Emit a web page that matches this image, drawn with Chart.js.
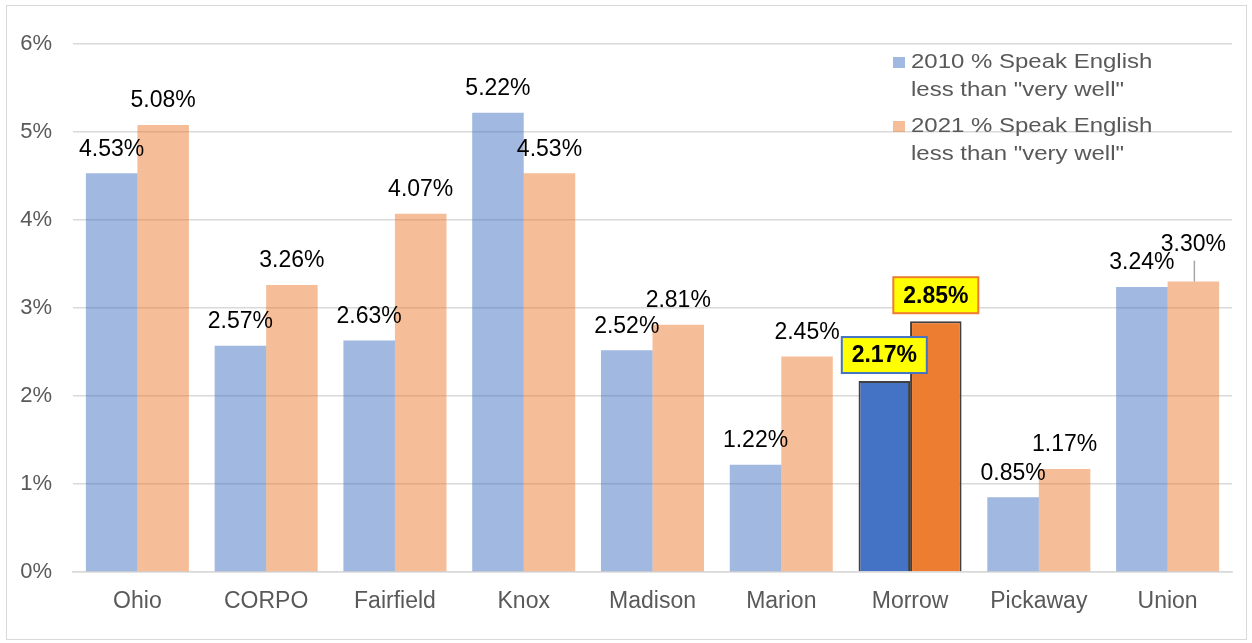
<!DOCTYPE html>
<html>
<head>
<meta charset="utf-8">
<script src="https://cdn.jsdelivr.net/npm/chart.js@4"></script>
<style>
  html, body { margin: 0; padding: 0; background: #fff; }
  #frame { position: absolute; left: 6px; top: 5px; width: 1239px; height: 633px; border: 1px solid #d9d9d9; }
  #wrap { position: absolute; left: 0; top: 0; width: 1252px; height: 643px; }
</style>
</head>
<body>
<div id="frame"></div>
<div id="wrap"><canvas id="chart"></canvas></div>
<script>
const categories = ['Ohio', 'CORPO', 'Fairfield', 'Knox', 'Madison', 'Marion', 'Morrow', 'Pickaway', 'Union'];
const values2010 = [4.53, 2.57, 2.63, 5.22, 2.52, 1.22, 2.17, 0.85, 3.24];
const values2021 = [5.08, 3.26, 4.07, 4.53, 2.81, 2.45, 2.85, 1.17, 3.30];
const seriesNames = [['2010 % Speak English', 'less than "very well"'], ['2021 % Speak English', 'less than "very well"']];
const highlight = 'Morrow';

const FONT = '"Liberation Sans", Arial, sans-serif';
const blue = '#4472C4', orange = '#ED7D31';
const blueSoft = 'rgba(68,114,196,0.5)', orangeSoft = 'rgba(237,125,49,0.5)';

function colorsFor(full, soft) {
    return categories.map(c => c === highlight ? full : soft);
}

const labelPlugin = {
    id: 'barLabels',
    afterDatasetsDraw(chart) {
        const ctx = chart.ctx;
        ctx.save();
        ctx.textAlign = 'center';
        ctx.textBaseline = 'middle';
        chart.data.datasets.forEach((ds, di) => {
            const meta = chart.getDatasetMeta(di);
            meta.data.forEach((bar, i) => {
                const text = ds.data[i].toFixed(2) + '%';
                let x = bar.x, y = bar.y - 24;
                if (categories[i] === highlight) {
                    ctx.font = 'bold 23px ' + FONT;
                    const w = 85, h = 36;
                    y = bar.y - 26;
                    ctx.fillStyle = '#ffff00';
                    ctx.fillRect(x - w / 2, y - h / 2, w, h);
                    ctx.strokeStyle = di === 0 ? blue : orange;
                    ctx.lineWidth = 2;
                    ctx.strokeRect(x - w / 2, y - h / 2, w, h);
                    ctx.fillStyle = '#000';
                    ctx.fillText(text, x, y + 1);
                    return;
                }
                if (categories[i] === 'Union' && di === 1) {
                    // label pushed up with a leader line
                    ctx.strokeStyle = '#a6a6a6';
                    ctx.lineWidth = 1.5;
                    ctx.beginPath();
                    ctx.moveTo(bar.x + 1, bar.y);
                    ctx.lineTo(bar.x + 1, bar.y - 21);
                    ctx.stroke();
                    y = bar.y - 37;
                }
                ctx.font = '23px ' + FONT;
                ctx.fillStyle = '#000';
                ctx.fillText(text, x, y);
            });
        });
        ctx.restore();
    }
};

const legendPlugin = {
    id: 'sideLegend',
    afterDraw(chart) {
        const ctx = chart.ctx;
        ctx.save();
        ctx.textBaseline = 'middle';
        ctx.textAlign = 'left';
        chart.data.datasets.forEach((ds, di) => {
            const top = 62 + di * 64;
            ctx.fillStyle = di === 0 ? blueSoft : orangeSoft;
            ctx.fillRect(893, top - 5, 12, 11);
            ctx.fillStyle = '#595959';
            ds.label.forEach((line, li) => {
                ctx.save();
                ctx.translate(911, top + li * 28);
                ctx.scale(1.17, 1);
                ctx.font = '20.5px ' + FONT;
                ctx.fillText(line, 0, 0);
                ctx.restore();
            });
        });
        ctx.restore();
    }
};

new Chart(document.getElementById('chart'), {
    type: 'bar',
    data: {
        labels: categories,
        datasets: [
            {
                label: seriesNames[0],
                data: values2010,
                backgroundColor: colorsFor(blue, blueSoft),
                borderColor: categories.map(c => c === highlight ? '#404040' : 'rgba(0,0,0,0)'),
                borderWidth: categories.map(c => c === highlight ? 2 : 0)
            },
            {
                label: seriesNames[1],
                data: values2021,
                backgroundColor: colorsFor(orange, orangeSoft),
                borderColor: categories.map(c => c === highlight ? '#404040' : 'rgba(0,0,0,0)'),
                borderWidth: categories.map(c => c === highlight ? 2 : 0)
            }
        ]
    },
    options: {
        responsive: true,
        maintainAspectRatio: false,
        animation: false,
        layout: { padding: { left: 0, top: 44, right: 20, bottom: 0 } },
        datasets: { bar: { categoryPercentage: 0.8, barPercentage: 1.0 } },
        plugins: {
            legend: { display: false },
            tooltip: { enabled: false }
        },
        scales: {
            x: {
                grid: { display: false },
                border: { color: '#d9d9d9', width: 1.5 },
                ticks: { color: '#595959', font: { family: FONT, size: 23 }, padding: 8 },
                afterFit(scale) { scale.height = 71; }
            },
            y: {
                min: 0,
                max: 6,
                grid: { color: '#d9d9d9', lineWidth: 1.5, drawTicks: false },
                border: { display: false },
                ticks: {
                    stepSize: 1,
                    color: '#595959',
                    font: { family: FONT, size: 22 },
                    padding: 21,
                    callback: v => v + '%'
                },
                afterFit(scale) { scale.width = 73; }
            }
        }
    },
    plugins: [labelPlugin, legendPlugin]
});
</script>
</body>
</html>
